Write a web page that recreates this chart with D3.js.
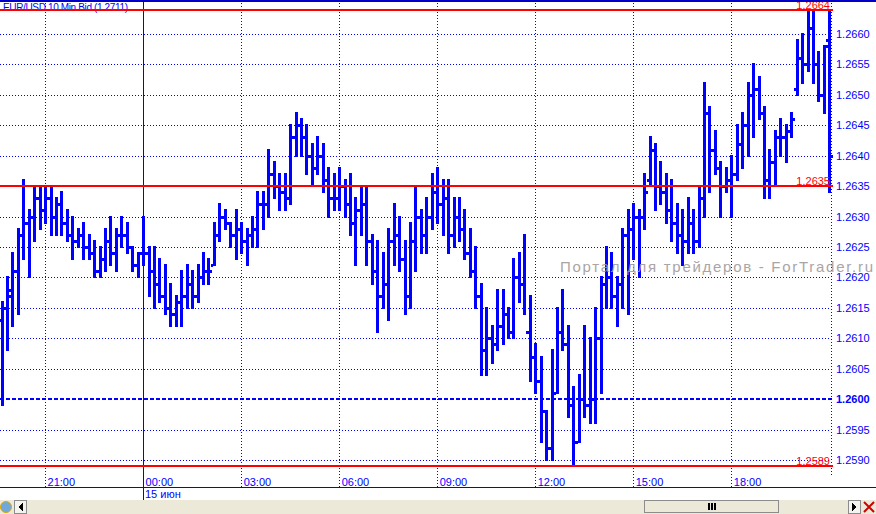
<!DOCTYPE html>
<html>
<head>
<meta charset="utf-8">
<script src="https://cdn.jsdelivr.net/npm/d3@7"></script>
<style>
body{margin:0;background:#fff}
svg{display:block}
text{font-family:"Liberation Sans",Arial,sans-serif}
</style>
</head>
<body>
<div id="chart"></div>
<script>

// EUR/USD 10 min bars
var title = "EUR/USD 10 Min Bid (1.2711)"

var opens = [1.2613,1.2615,1.2617,1.2621,1.2627,1.2629,1.2630,1.2633,1.2631,1.2633,
1.2630,1.2632,1.2629,1.2627,1.2626,1.2627,1.2625,1.2624,1.2621,1.2623,
1.2626,1.2624,1.2627,1.2627,1.2625,1.2622,1.2624,1.2624,1.2621,1.2619,
1.2617,1.2615,1.2614,1.2616,1.2617,1.2619,1.2617,1.2620,1.2621,1.2622,
1.2627,1.2630,1.2629,1.2627,1.2628,1.2626,1.2627,1.2628,1.2632,1.2632,
1.2637,1.2635,1.2634,1.2633,1.2643,1.2645,1.2643,1.2640,1.2638,1.2640,
1.2636,1.2633,1.2633,1.2635,1.2632,1.2629,1.2631,1.2632,1.2626,1.2621,
1.2617,1.2619,1.2626,1.2627,1.2623,1.2617,1.2626,1.2630,1.2627,1.2630,
1.2634,1.2632,1.2633,1.2627,1.2630,1.2628,1.2624,1.2621,1.2617,1.2608,
1.2610,1.2609,1.2612,1.2614,1.2611,1.2620,1.2619,1.2611,1.2607,1.2603,
1.2598,1.2592,1.2601,1.2611,1.2609,1.2599,1.2593,1.2600,1.2599,1.2600,
1.2610,1.2619,1.2620,1.2617,1.2619,1.2627,1.2628,1.2630,1.2630,1.2636,
1.2641,1.2635,1.2634,1.2631,1.2629,1.2627,1.2626,1.2629,1.2626,1.2633,
1.2647,1.2641,1.2638,1.2635,1.2636,1.2637,1.2642,1.2645,1.2650,1.2651,
1.2647,1.2636,1.2639,1.2643,1.2643,1.2644,1.2651,1.2656,1.2655,1.2661,
1.2655,1.2650,1.2659]

var highs = [1.2616,1.2620,1.2624,1.2628,1.2636,1.2631,1.2635,1.2635,1.2635,1.2635,
1.2633,1.2634,1.2631,1.2630,1.2628,1.2629,1.2627,1.2626,1.2625,1.2628,
1.2630,1.2628,1.2630,1.2629,1.2625,1.2624,1.2630,1.2625,1.2625,1.2623,
1.2622,1.2619,1.2617,1.2621,1.2622,1.2621,1.2622,1.2624,1.2623,1.2629,
1.2632,1.2631,1.2629,1.2631,1.2629,1.2628,1.2630,1.2634,1.2634,1.2641,
1.2639,1.2637,1.2637,1.2645,1.2647,1.2646,1.2645,1.2642,1.2643,1.2642,
1.2638,1.2637,1.2638,1.2636,1.2637,1.2633,1.2635,1.2635,1.2627,1.2626,
1.2624,1.2628,1.2632,1.2630,1.2626,1.2629,1.2635,1.2631,1.2633,1.2637,
1.2638,1.2636,1.2636,1.2633,1.2633,1.2631,1.2628,1.2625,1.2619,1.2615,
1.2612,1.2618,1.2618,1.2615,1.2623,1.2624,1.2627,1.2617,1.2609,1.2607,
1.2598,1.2608,1.2615,1.2618,1.2612,1.2602,1.2604,1.2612,1.2610,1.2615,
1.2620,1.2625,1.2624,1.2620,1.2628,1.2631,1.2632,1.2631,1.2637,1.2643,
1.2642,1.2639,1.2637,1.2636,1.2632,1.2631,1.2633,1.2631,1.2635,1.2652,
1.2648,1.2644,1.2639,1.2638,1.2640,1.2645,1.2647,1.2652,1.2655,1.2653,
1.2648,1.2641,1.2644,1.2646,1.2645,1.2647,1.2659,1.2660,1.2664,1.2664,
1.2657,1.2658,1.2664]

var lows = [1.2599,1.2608,1.2612,1.2614,1.2623,1.2620,1.2626,1.2628,1.2629,1.2627,
1.2627,1.2627,1.2626,1.2623,1.2625,1.2623,1.2623,1.2620,1.2620,1.2621,
1.2622,1.2621,1.2625,1.2624,1.2621,1.2620,1.2622,1.2617,1.2615,1.2616,
1.2614,1.2612,1.2612,1.2612,1.2615,1.2615,1.2616,1.2619,1.2619,1.2622,
1.2626,1.2628,1.2625,1.2623,1.2624,1.2622,1.2625,1.2625,1.2628,1.2630,
1.2633,1.2631,1.2631,1.2632,1.2640,1.2640,1.2637,1.2635,1.2637,1.2634,
1.2630,1.2631,1.2631,1.2630,1.2627,1.2622,1.2627,1.2622,1.2619,1.2611,
1.2615,1.2613,1.2622,1.2621,1.2614,1.2615,1.2621,1.2624,1.2624,1.2628,
1.2629,1.2627,1.2624,1.2625,1.2626,1.2623,1.2620,1.2615,1.2604,1.2604,
1.2606,1.2608,1.2609,1.2610,1.2610,1.2616,1.2614,1.2603,1.2601,1.2593,
1.2590,1.2590,1.2601,1.2608,1.2597,1.2589,1.2593,1.2597,1.2596,1.2596,
1.2601,1.2615,1.2615,1.2612,1.2615,1.2614,1.2623,1.2620,1.2628,1.2635,
1.2631,1.2632,1.2629,1.2626,1.2624,1.2622,1.2624,1.2624,1.2625,1.2630,
1.2634,1.2637,1.2630,1.2634,1.2630,1.2636,1.2638,1.2640,1.2643,1.2646,
1.2633,1.2633,1.2635,1.2640,1.2639,1.2643,1.2650,1.2652,1.2654,1.2652,
1.2649,1.2647,1.2634]

var closes = [1.2615,1.2618,1.2621,1.2627,1.2629,1.2630,1.2633,1.2631,1.2633,1.2630,
1.2632,1.2629,1.2627,1.2626,1.2627,1.2625,1.2624,1.2621,1.2623,1.2626,
1.2624,1.2627,1.2627,1.2625,1.2622,1.2624,1.2624,1.2621,1.2619,1.2617,
1.2615,1.2614,1.2616,1.2617,1.2619,1.2617,1.2620,1.2621,1.2621,1.2627,
1.2630,1.2629,1.2627,1.2628,1.2626,1.2627,1.2628,1.2632,1.2632,1.2637,
1.2635,1.2634,1.2633,1.2643,1.2645,1.2643,1.2640,1.2638,1.2640,1.2636,
1.2633,1.2633,1.2635,1.2632,1.2629,1.2631,1.2632,1.2626,1.2621,1.2617,
1.2619,1.2626,1.2627,1.2623,1.2617,1.2626,1.2630,1.2627,1.2630,1.2634,
1.2632,1.2633,1.2627,1.2630,1.2628,1.2624,1.2621,1.2617,1.2608,1.2610,
1.2609,1.2612,1.2614,1.2611,1.2620,1.2619,1.2611,1.2607,1.2603,1.2598,
1.2592,1.2601,1.2611,1.2609,1.2599,1.2593,1.2600,1.2599,1.2600,1.2610,
1.2619,1.2620,1.2617,1.2619,1.2627,1.2628,1.2630,1.2630,1.2634,1.2641,
1.2635,1.2634,1.2631,1.2629,1.2627,1.2626,1.2629,1.2626,1.2633,1.2647,
1.2641,1.2638,1.2635,1.2636,1.2637,1.2642,1.2645,1.2650,1.2651,1.2647,
1.2636,1.2639,1.2643,1.2643,1.2644,1.2646,1.2656,1.2655,1.2661,1.2655,
1.2650,1.2658,1.2640]

var timeTicks = [8,26,44,62,80,98,116,134]
var timeLabels = ["21:00","00:00","03:00","06:00","09:00","12:00","15:00","18:00"]
var dayBreak = 26
var dayLabel = "15 июн"

var priceTicks = [1.2590,1.2595,1.2600,1.2605,1.2610,1.2615,1.2620,1.2625,1.2630,1.2635,1.2640,1.2645,1.2650,1.2655,1.2660]
var redLevels = [1.2664,1.2635,1.2589]
var userLevel = 1.2600

var watermark = "Портал для трейдеров - ForTrader.ru"


var W = 876, H = 514
var plotRight = 831, axisY = 487.5
var blue = "#0000ff"

var svg = d3.select("#chart").append("svg")
            .attr("width", W)
            .attr("height", H)

var xScale = d3.scaleLinear().domain([0,152]).range([1.5,829.3])
var yScale = d3.scaleLinear().domain([1.2590,1.2660]).range([460,34])

var bars = d3.range(opens.length).map(function(i){
	return {i:i, o:opens[i], h:highs[i], l:lows[i], c:closes[i]}
})

// grid
var grid = svg.append("g").attr("shape-rendering","crispEdges")

grid.selectAll(".hgrid")
	.data(priceTicks.filter(function(d){return d != userLevel}))
	.enter().append("line")
	.attr("x1",0).attr("x2",plotRight)
	.attr("y1",function(d){return Math.round(yScale(d))+0.5})
	.attr("y2",function(d){return Math.round(yScale(d))+0.5})
	.attr("stroke",blue)
	.attr("stroke-dasharray","1,2")

grid.selectAll(".vgrid")
	.data(timeTicks.filter(function(d){return d != dayBreak}))
	.enter().append("line")
	.attr("x1",function(d){return Math.round(xScale(d))+0.5})
	.attr("x2",function(d){return Math.round(xScale(d))+0.5})
	.attr("y1",0).attr("y2",axisY)
	.attr("stroke",blue)
	.attr("stroke-dasharray","1,2")

// day separator
grid.append("line")
	.attr("x1",Math.round(xScale(dayBreak))+0.5)
	.attr("x2",Math.round(xScale(dayBreak))+0.5)
	.attr("y1",0).attr("y2",500)
	.attr("stroke",blue)

// right border (dotted)
grid.append("line")
	.attr("x1",plotRight+0.5).attr("x2",plotRight+0.5)
	.attr("y1",0).attr("y2",476)
	.attr("stroke",blue)
	.attr("stroke-dasharray","1,2")

// user horizontal line at 1.2600
grid.append("line")
	.attr("x1",0).attr("x2",plotRight+2)
	.attr("y1",Math.round(yScale(userLevel)))
	.attr("y2",Math.round(yScale(userLevel)))
	.attr("stroke",blue)
	.attr("stroke-width",2)
	.attr("stroke-dasharray","4,2")

// title
svg.append("text")
	.attr("x",3).attr("y",11)
	.attr("font-size","10px")
	.attr("fill",blue)
	.attr("textLength",125)
	.text(title)

// OHLC bars
var barG = svg.append("g").attr("fill",blue).attr("shape-rendering","crispEdges")

var g = barG.selectAll(".bar").data(bars).enter().append("g")

g.append("rect")
	.attr("x",function(d){return Math.round(xScale(d.i))-1})
	.attr("width",3)
	.attr("y",function(d){return Math.round(yScale(d.h))-1})
	.attr("height",function(d){return Math.round(yScale(d.l))-Math.round(yScale(d.h))+2})

g.append("rect")
	.attr("x",function(d){return Math.round(xScale(d.i))-3})
	.attr("width",2)
	.attr("y",function(d){return Math.round(yScale(d.o))-1})
	.attr("height",3)

g.append("rect")
	.attr("x",function(d){return Math.round(xScale(d.i))+2})
	.attr("width",2)
	.attr("y",function(d){return Math.round(yScale(d.c))-1})
	.attr("height",3)

// red lines: max, last, min
svg.selectAll(".red")
	.data(redLevels)
	.enter().append("line")
	.attr("x1",0).attr("x2",plotRight+2)
	.attr("y1",function(d){return Math.round(yScale(d))})
	.attr("y2",function(d){return Math.round(yScale(d))})
	.attr("stroke","#ff0000")
	.attr("stroke-width",2)
	.attr("shape-rendering","crispEdges")

svg.selectAll(".redlab")
	.data(redLevels)
	.enter().append("text")
	.attr("x",plotRight-1)
	.attr("y",function(d){return Math.round(yScale(d))-1})
	.attr("text-anchor","end")
	.attr("font-size","11px")
	.attr("fill","#ff0000")
	.text(function(d){return d3.format(".4f")(d)})

// price axis
var yAxis = d3.axisRight(yScale).tickValues(priceTicks).tickSize(0).tickPadding(5).tickFormat(d3.format(".4f"))
var yAxisGroup = svg.append("g")
	.attr("transform","translate(" + plotRight + ",0)")
	.call(yAxis)
yAxisGroup.select(".domain").remove()
yAxisGroup.selectAll("text")
	.attr("fill",blue)
	.attr("font-size","11px")
	.attr("font-family","Liberation Sans, Arial, sans-serif")
	.attr("font-weight",function(d){return d == userLevel ? "bold" : "normal"})

// time axis
var xAxis = d3.axisBottom(xScale).tickValues(timeTicks).tickSize(0)
	.tickFormat(function(d,i){return timeLabels[i]})
var xAxisGroup = svg.append("g")
	.attr("transform","translate(0,476)")
	.call(xAxis)
xAxisGroup.select(".domain").remove()
xAxisGroup.selectAll("text")
	.attr("fill",blue)
	.attr("font-size","11px")
	.attr("font-family","Liberation Sans, Arial, sans-serif")
	.attr("text-anchor","start")
	.attr("x",2).attr("y",10).attr("dy",0)

svg.append("line")
	.attr("x1",0).attr("x2",W)
	.attr("y1",axisY).attr("y2",axisY)
	.attr("stroke",blue)
	.attr("shape-rendering","crispEdges")

svg.append("text")
	.attr("x",Math.round(xScale(dayBreak))+2).attr("y",498)
	.attr("font-size","11px")
	.attr("fill",blue)
	.text(dayLabel)

// top border
svg.append("rect").attr("x",0).attr("y",0).attr("width",W).attr("height",2).attr("fill","#0000c8")

// watermark
svg.append("text")
	.attr("x",560).attr("y",272)
	.attr("font-size","15px")
	.attr("fill","#a39b9b")
	.attr("opacity",0.9)
	.attr("textLength",313)
	.text(watermark)

// bottom strip with scroll bar
var strip = svg.append("g").attr("shape-rendering","crispEdges")
strip.append("rect").attr("x",0).attr("y",500).attr("width",W).attr("height",14).attr("fill","#ece9d8")
strip.append("rect").attr("x",644.5).attr("y",500.5).attr("width",134).attr("height",12)
	.attr("fill","#ece9d8").attr("stroke","#8c8c8c")
strip.selectAll(".grip").data([0,1,2]).enter().append("rect")
	.attr("x",function(d){return 708+d*3}).attr("y",503).attr("width",2).attr("height",7).attr("fill","#000")
strip.append("rect").attr("x",14.5).attr("y",500.5).attr("width",12).attr("height",13)
	.attr("fill","#f4f3ee").attr("stroke","#8c8c8c")
strip.append("path").attr("d","M18,507 L23,503 L23,511 Z").attr("fill","#000")
strip.append("rect").attr("x",848.5).attr("y",500.5).attr("width",12).attr("height",13)
	.attr("fill","#f4f3ee").attr("stroke","#8c8c8c")
strip.append("path").attr("d","M852,503 L857,507 L852,511 Z").attr("fill","#000")
svg.append("path").attr("d","M864,502 L874,512 M874,502 L864,512")
	.attr("stroke","#d00000").attr("stroke-width",2)
svg.append("circle").attr("cx",6).attr("cy",507).attr("r",5.5).attr("fill","#6fa8dc").attr("stroke","#e0a800")

</script>
</body>
</html>
